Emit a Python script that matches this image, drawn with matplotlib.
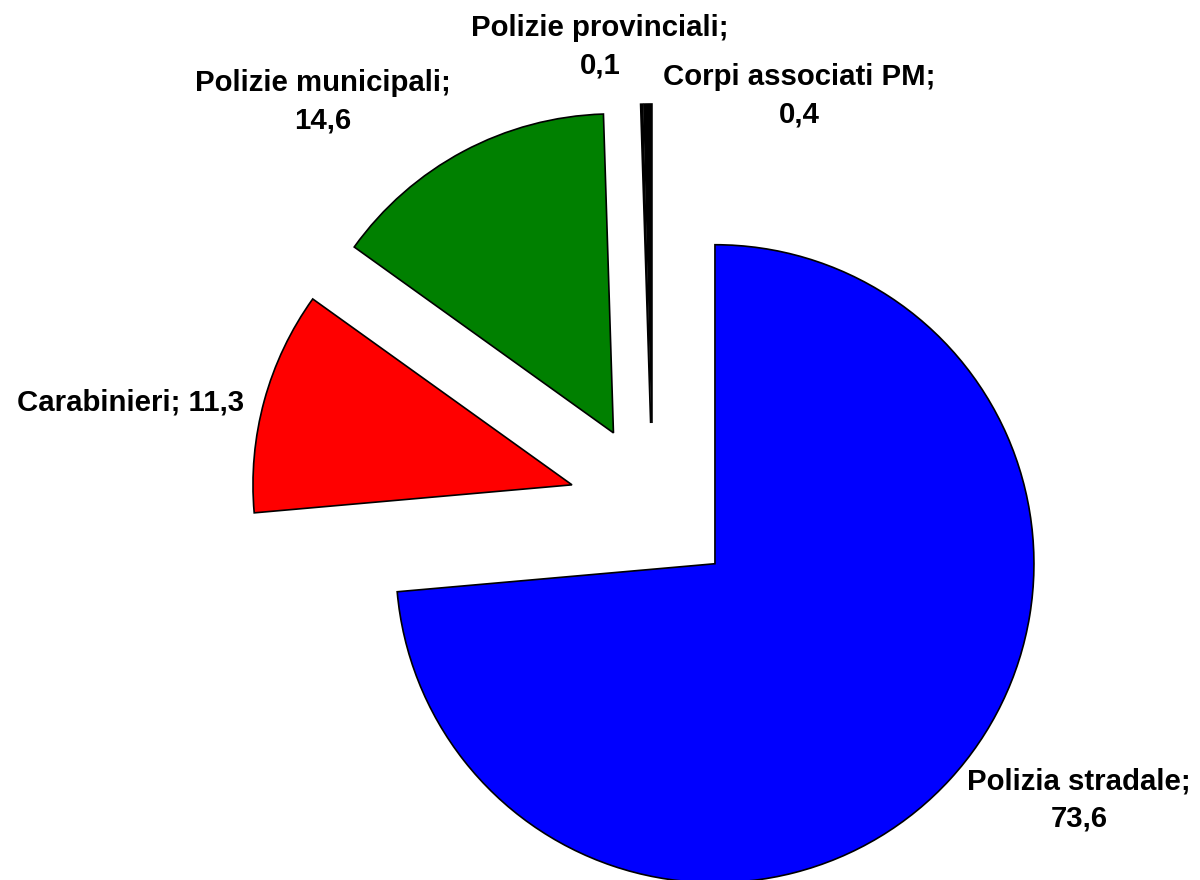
import matplotlib
matplotlib.use('Agg')
from matplotlib import pyplot as plt

labels = ['Polizia stradale', 'Carabinieri', 'Polizie municipali',
          'Polizie provinciali', 'Corpi associati PM']
values = [73.6, 11.3, 14.6, 0.1, 0.4]
colors = ['#0000ff', '#ff0000', '#008000', '#000000', '#000000']

# label text positions in pixels (x, y from top) and line breaks
label_pos = [(1079, 800), (131, 402), (323, 102), (600, 47), (799, 96)]
label_break = ['\n', ' ', '\n', '\n', '\n']

W, H = 1200, 880
fig = plt.figure(figsize=(W / 100, H / 100), dpi=100)
ax = fig.add_axes([0, 0, 1, 1])

# explode is in data units (pixels here), not a fraction of the radius
ax.pie(values, colors=colors, startangle=90, counterclock=False,
       center=(653, H - 507), radius=319, explode=[84] * len(values),
       wedgeprops=dict(edgecolor='black', linewidth=1.2))

for lab, v, (px, py), br in zip(labels, values, label_pos, label_break):
    txt = lab + ';' + br + ('%.1f' % v).replace('.', ',')
    ax.text(px, H - py, txt, ha='center', va='center', fontsize=21.2,
            fontweight='bold', family=['Liberation Sans', 'DejaVu Sans'],
            linespacing=1.45)

ax.set_xlim(0, W)
ax.set_ylim(0, H)
ax.set_aspect('equal')
ax.axis('off')
fig.savefig('out.png', dpi=100)
